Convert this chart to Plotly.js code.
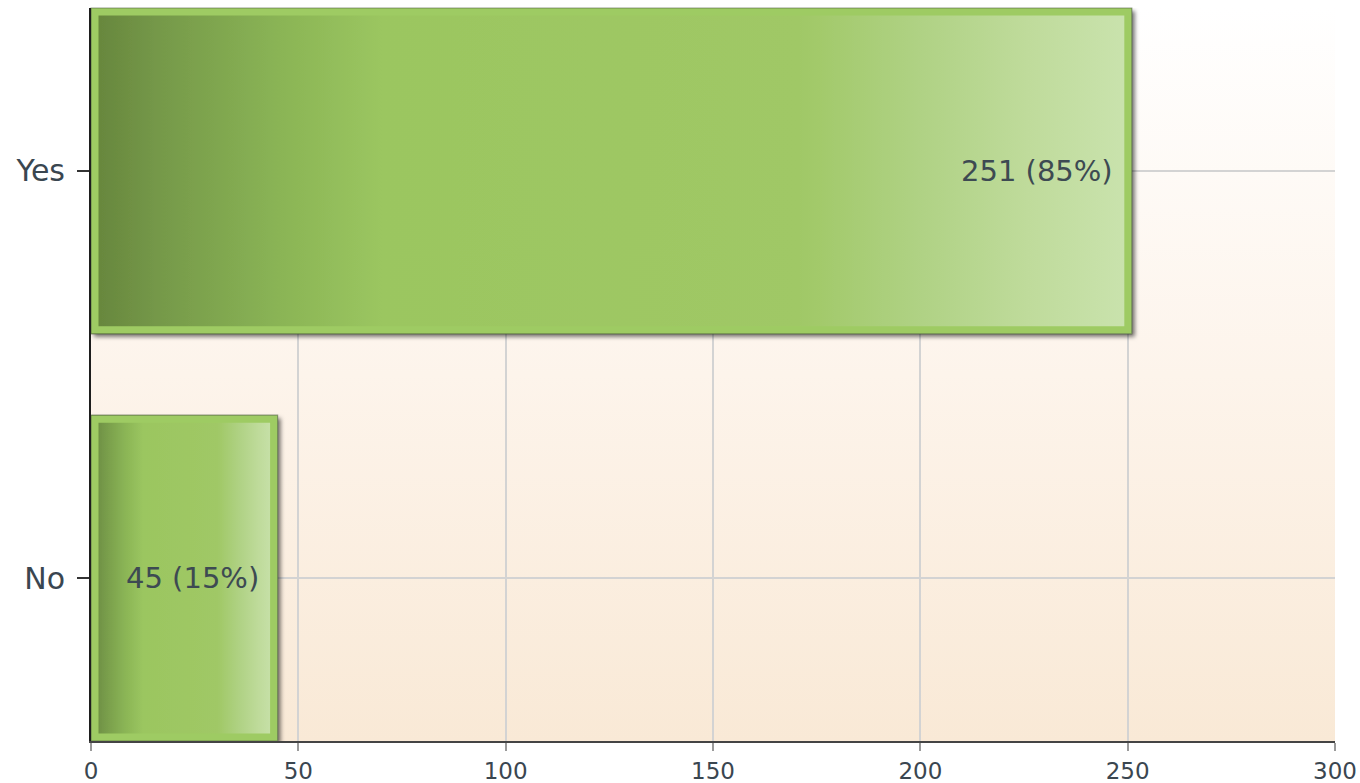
<!DOCTYPE html>
<html>
<head>
<meta charset="utf-8">
<script src="https://cdn.plot.ly/plotly-3.0.1.min.js"></script>
<style>
  html, body { margin: 0; padding: 0; background: #ffffff; }
  #chart { width: 1360px; height: 783px; }
</style>
</head>
<body>
<div id="chart"></div>
<script>
// ---- data ----
const categories = ['Yes', 'No'];
const counts = [251, 45];
const percents = [85, 15];
const xTickValues = [0, 50, 100, 150, 200, 250, 300];

const labelFont = { family: 'DejaVu Sans, sans-serif', size: 29, color: '#3d4a52' };

const trace = {
  type: 'bar',
  orientation: 'h',
  y: categories,
  x: counts,
  marker: { color: '#9fcb63', line: { width: 0 } },
  cliponaxis: false,
  hoverinfo: 'none'
};

const annotations = categories.map((c, i) => ({
  x: counts[i], y: c, xref: 'x', yref: 'y',
  xanchor: 'right', yanchor: 'middle', xshift: -17,
  text: counts[i] + ' (' + percents[i] + '%)',
  showarrow: false,
  font: labelFont
}));

const layout = {
  width: 1360, height: 783,
  margin: { l: 91, r: 25, t: 8, b: 42 },
  paper_bgcolor: '#ffffff',
  plot_bgcolor: '#fdf4ea',
  showlegend: false,
  bargap: 0.2,
  font: { family: 'DejaVu Sans, sans-serif', color: '#3a4650' },
  xaxis: {
    range: [0, 300],
    tickvals: xTickValues,
    ticktext: xTickValues.map(String),
    showgrid: true, gridcolor: '#d3d3d3', gridwidth: 2,
    zeroline: false,
    showline: true, linecolor: '#444444', linewidth: 2,
    ticks: 'outside', ticklen: 8, tickwidth: 2, tickcolor: '#9a9a9a',
    tickfont: { size: 23, color: '#3a4650' },
    fixedrange: true
  },
  yaxis: {
    type: 'category',
    categoryorder: 'array', categoryarray: categories,
    range: [1.4, -0.4],
    showgrid: true, gridcolor: '#d3d3d3', gridwidth: 2,
    zeroline: false,
    showline: true, linecolor: '#1e1e1e', linewidth: 2,
    ticks: 'outside', ticklen: 12, tickwidth: 2, tickcolor: '#333333',
    tickfont: { size: 30, color: '#3a4650' },
    ticklabelstandoff: 6,
    fixedrange: true
  },
  annotations: annotations
};

Plotly.newPlot('chart', [trace], layout, { displayModeBar: false, staticPlot: true }).then(gd => {
  const NS = 'http://www.w3.org/2000/svg';
  const svg = gd.querySelector('.main-svg');
  let defs = svg.querySelector('defs');
  if (!defs) { defs = document.createElementNS(NS, 'defs'); svg.insertBefore(defs, svg.firstChild); }

  function makeGrad(id, vertical, stops) {
    const g = document.createElementNS(NS, 'linearGradient');
    g.setAttribute('id', id);
    g.setAttribute('x1', '0'); g.setAttribute('y1', '0');
    g.setAttribute('x2', vertical ? '0' : '1'); g.setAttribute('y2', vertical ? '1' : '0');
    stops.forEach(s => {
      const st = document.createElementNS(NS, 'stop');
      st.setAttribute('offset', s[0]);
      st.setAttribute('stop-color', s[1]);
      g.appendChild(st);
    });
    defs.appendChild(g);
  }
  makeGrad('bgGrad', true, [[0, '#ffffff'], [0.5, '#fdf4eb'], [1, '#f9e9d6']]);
  makeGrad('barGrad', false, [
    [0, '#66853c'], [0.07, '#769a4a'], [0.18, '#8ab455'], [0.28, '#9bc660'],
    [0.68, '#a0c866'], [0.8, '#b0d285'], [0.9, '#bfdb9b'], [1, '#cae3ae']
  ]);

  const f = document.createElementNS(NS, 'filter');
  f.setAttribute('id', 'barShadow');
  f.setAttribute('x', '-5%'); f.setAttribute('y', '-5%');
  f.setAttribute('width', '115%'); f.setAttribute('height', '115%');
  const ds = document.createElementNS(NS, 'feDropShadow');
  ds.setAttribute('dx', '3'); ds.setAttribute('dy', '3');
  ds.setAttribute('stdDeviation', '2');
  ds.setAttribute('flood-color', '#000000');
  ds.setAttribute('flood-opacity', '0.55');
  f.appendChild(ds);
  defs.appendChild(f);

  const bg = gd.querySelector('rect.bg');
  if (bg) bg.style.fill = 'url(#bgGrad)';

  gd.querySelectorAll('.barlayer .point path').forEach((p, i) => {
    p.style.fill = 'url(#barGrad)';
    p.setAttribute('filter', 'url(#barShadow)');
    const d = p.getAttribute('d');
    const cp = document.createElementNS(NS, 'clipPath');
    cp.setAttribute('id', 'barClip' + i);
    const cpp = document.createElementNS(NS, 'path');
    cpp.setAttribute('d', d);
    cp.appendChild(cpp);
    defs.appendChild(cp);

    const border = document.createElementNS(NS, 'path');
    border.setAttribute('d', d);
    border.setAttribute('fill', 'none');
    border.setAttribute('stroke', '#9ecb63');
    border.setAttribute('stroke-width', '15');
    border.setAttribute('clip-path', 'url(#barClip' + i + ')');
    const outline = document.createElementNS(NS, 'path');
    outline.setAttribute('d', d);
    outline.setAttribute('fill', 'none');
    outline.setAttribute('stroke', 'rgba(70,85,55,0.55)');
    outline.setAttribute('stroke-width', '1.2');
    const next = p.nextSibling;
    p.parentNode.insertBefore(border, next);
    p.parentNode.insertBefore(outline, next);
  });
});
</script>
</body>
</html>
